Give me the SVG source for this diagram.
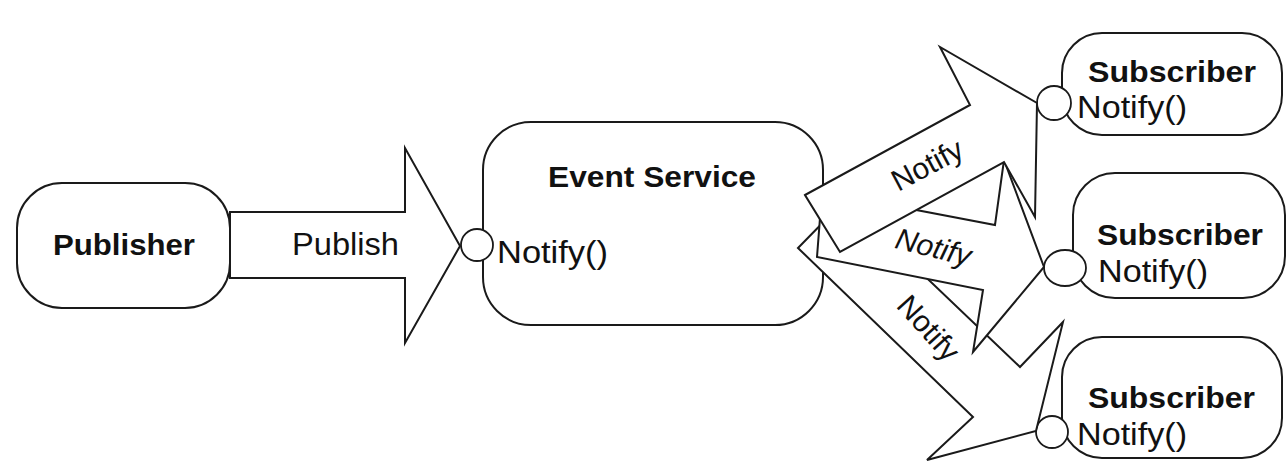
<svg xmlns="http://www.w3.org/2000/svg" width="1286" height="461" viewBox="0 0 1286 461">
  <style>
    .box { fill: #ffffff; stroke: #1a1a1a; stroke-width: 2; }
    .port { fill: #ffffff; stroke: #1a1a1a; stroke-width: 1.8; }
    .arrow { fill: #ffffff; stroke: #1a1a1a; stroke-width: 2; stroke-linejoin: miter; }
    .title { font-family: "Liberation Sans", Arial, sans-serif; font-weight: bold; font-size: 30px; fill: #111111; }
    .op { font-family: "Liberation Sans", Arial, sans-serif; font-size: 31px; fill: #111111; }
    .lbl { font-family: "Liberation Sans", Arial, sans-serif; font-size: 30px; fill: #111111; text-anchor: middle; }
  </style>
  <rect width="1286" height="461" fill="#ffffff"/>

  <g id="publisher">
    <rect class="box" x="17" y="183" width="213" height="125" rx="45" ry="45"/>
    <text class="title" x="124" y="255" text-anchor="middle" textLength="142" lengthAdjust="spacingAndGlyphs">Publisher</text>
  </g>

  <g id="event-service">
    <rect class="box" x="483" y="122" width="340" height="203" rx="48" ry="48"/>
    <text class="title" x="548" y="187" textLength="208" lengthAdjust="spacingAndGlyphs">Event Service</text>
    <circle class="port" cx="477" cy="245" r="16"/>
    <text class="op" x="497" y="263" textLength="111" lengthAdjust="spacingAndGlyphs">Notify()</text>
  </g>

  <g id="subscriber-1">
    <rect class="box" x="1062" y="33" width="220" height="102" rx="40" ry="40"/>
    <text class="title" x="1088" y="82" textLength="168" lengthAdjust="spacingAndGlyphs">Subscriber</text>
    <circle class="port" cx="1054" cy="103" r="17"/>
    <text class="op" x="1077" y="118" textLength="110" lengthAdjust="spacingAndGlyphs">Notify()</text>
  </g>

  <g id="subscriber-2">
    <rect class="box" x="1073" y="173" width="212" height="125" rx="42" ry="42"/>
    <text class="title" x="1097" y="245" textLength="166" lengthAdjust="spacingAndGlyphs">Subscriber</text>
    <ellipse class="port" cx="1065" cy="268" rx="21" ry="18"/>
    <text class="op" x="1098" y="282" textLength="110" lengthAdjust="spacingAndGlyphs">Notify()</text>
  </g>

  <g id="subscriber-3">
    <rect class="box" x="1062" y="337" width="220" height="121" rx="40" ry="40"/>
    <text class="title" x="1088" y="408" textLength="167" lengthAdjust="spacingAndGlyphs">Subscriber</text>
    <circle class="port" cx="1052" cy="432" r="16"/>
    <text class="op" x="1077" y="445" textLength="110" lengthAdjust="spacingAndGlyphs">Notify()</text>
  </g>

  <g id="connectors">
    <g id="publish-arrow">
      <polygon class="arrow" points="230,212 405,212 405,148 460,246 405,343 405,278 230,278"/>
      <text class="op" x="292" y="255" textLength="107" lengthAdjust="spacingAndGlyphs">Publish</text>
    </g>
    <g id="notify-arrow-3">
      <polygon class="arrow" points="798,248 973,417 927,460 1036,431 1063,322 1020,367 845,200"/>
      <text class="lbl" transform="translate(921,335) rotate(48)">Notify</text>
    </g>
    <g id="notify-arrow-2">
      <polygon class="arrow" points="822,192 995,225 1004,160 1044,267 973,352 983,290 817,257"/>
      <text class="lbl" font-style="italic" transform="translate(931,257) rotate(14)">Notify</text>
    </g>
    <g id="notify-arrow-1">
      <polygon class="arrow" points="805,195 970,105 940,47 1037,103 1035,217 1004,162 840,252"/>
      <text class="lbl" transform="translate(932,174) rotate(-28)">Notify</text>
    </g>
  </g>
</svg>
